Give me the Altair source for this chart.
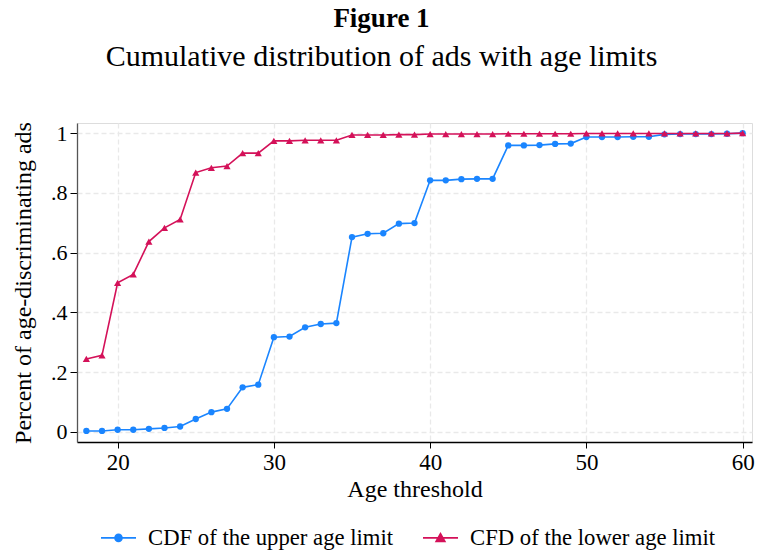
import altair as alt
import pandas as pd

ages = [18, 19, 20, 21, 22, 23, 24, 25, 26, 27, 28, 29, 30, 31, 32, 33, 34, 35, 36, 37, 38,
        39, 40, 41, 42, 43, 44, 45, 46, 47, 48, 49, 50, 51, 52, 53, 54, 55, 56, 57, 58, 59, 60]
upper = [0.003, 0.003, 0.007, 0.007, 0.010, 0.013, 0.018, 0.043, 0.066, 0.077, 0.149, 0.158,
         0.317, 0.319, 0.350, 0.361, 0.364, 0.652, 0.663, 0.665, 0.697, 0.699, 0.842, 0.842,
         0.846, 0.847, 0.847, 0.959, 0.959, 0.960, 0.964, 0.965, 0.987, 0.987, 0.987, 0.988,
         0.988, 0.996, 0.997, 0.997, 0.997, 0.998, 1.000]
lower = [0.244, 0.256, 0.499, 0.527, 0.637, 0.683, 0.711, 0.868, 0.884, 0.890, 0.933, 0.933,
         0.974, 0.974, 0.976, 0.976, 0.976, 0.994, 0.994, 0.994, 0.995, 0.995, 0.997, 0.997,
         0.997, 0.997, 0.997, 0.998, 0.998, 0.998, 0.998, 0.998, 0.999, 0.999, 0.999, 0.999,
         0.999, 0.999, 0.999, 0.999, 0.999, 0.999, 1.000]
series_names = ["CDF of the upper age limit", "CFD of the lower age limit"]
colors = ["#1a85ff", "#d41159"]
marker_shapes = ["circle", "triangle-up"]
marker_sizes = [40, 52]
x_ticks = [20, 30, 40, 50, 60]
y_ticks = [0, 0.2, 0.4, 0.6, 0.8, 1]

df = pd.DataFrame({
    "age": ages + ages,
    "value": upper + lower,
    "series": [series_names[0]] * len(ages) + [series_names[1]] * len(ages),
})

FONT = "Liberation Serif"
W, H = 675, 319

x_enc = alt.X(
    "age:Q",
    scale=alt.Scale(domain=[17.4, 60.6], nice=False, zero=False),
    axis=alt.Axis(
        values=x_ticks, title="Age threshold", grid=True,
        gridDash=[5, 3], gridColor="#e9e9e9", gridWidth=1.3,
        domainColor="#000000", domainWidth=1.3, tickColor="#000000", tickSize=6,
        labelFont=FONT, labelFontSize=23, labelColor="#000000", labelPadding=3,
        titleFont=FONT, titleFontSize=24, titleFontWeight="normal", titleColor="#000000",
        titlePadding=3,
    ),
)
y_enc = alt.Y(
    "value:Q",
    scale=alt.Scale(domain=[-0.034, 1.034], nice=False, zero=False),
    axis=alt.Axis(
        values=y_ticks, title="Percent of age-discriminating ads", grid=True,
        gridDash=[5, 3], gridColor="#e9e9e9", gridWidth=1.3,
        labelExpr="datum.value == 0 ? '0' : (datum.value == 1 ? '1' : replace(format(datum.value, '.1f'), '0.', '.'))",
        domainColor="#555555", domainWidth=1.3, tickColor="#000000", tickSize=7,
        labelFont=FONT, labelFontSize=22, labelColor="#000000", labelPadding=3,
        titleFont=FONT, titleFontSize=24, titleFontWeight="normal", titleColor="#000000",
        titlePadding=15,
    ),
)

layers = []
for name, col, shp, sz in zip(series_names, colors, marker_shapes, marker_sizes):
    base = alt.Chart(df).transform_filter(alt.datum.series == name)
    layers.append(base.mark_line(strokeWidth=1.6, color=col).encode(x=x_enc, y=y_enc))
    layers.append(base.mark_point(shape=shp, filled=True, size=sz, opacity=1, color=col).encode(x=x_enc, y=y_enc))

paths = [
    "M-1 0L1 0M-0.2 0A0.2 0.2 0 1 1 0.2 0A0.2 0.2 0 1 1 -0.2 0Z",
    "M-1 0L1 0M-0.25 0.2L0 -0.25L0.25 0.2Z",
]

leg = alt.Legend(
    title=None, orient="none", legendX=23, legendY=396, direction="horizontal",
    symbolSize=1225, symbolStrokeWidth=1.6, symbolOpacity=1, padding=0,
    labelFont=FONT, labelFontSize=22.7, labelColor="#000000", labelOffset=11, labelLimit=500,
    columnPadding=25,
)

legend_layer = alt.Chart(df).mark_point(filled=True, opacity=0).encode(
    x=x_enc, y=y_enc,
    fill=alt.Fill("series:N", scale=alt.Scale(domain=series_names, range=colors), legend=leg),
    stroke=alt.Stroke("series:N", scale=alt.Scale(domain=series_names, range=colors), legend=leg),
    shape=alt.Shape("series:N", scale=alt.Scale(domain=series_names, range=paths), legend=leg),
)

chart = alt.layer(*layers, legend_layer).properties(
    width=W, height=H,
    autosize=alt.AutoSizeParams(type="none"),
    padding={"left": 77, "top": 123, "right": 6, "bottom": 109},
    title=alt.TitleParams(
        text="Figure 1", subtitle="Cumulative distribution of ads with age limits",
        font=FONT, fontSize=27, fontWeight="bold", color="#000000",
        subtitleFont=FONT, subtitleFontSize=30, subtitleColor="#000000", subtitlePadding=9,
        anchor="middle", frame="group", dx=-33, offset=49,
    ),
).configure_view(stroke=None).configure(background="white")

chart.save("out.html", embed_options={"renderer": "svg", "actions": False})
